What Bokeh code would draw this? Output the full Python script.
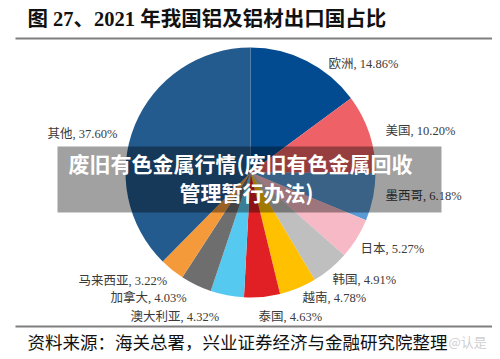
import math
from bokeh.plotting import figure
from bokeh.models import ColumnDataSource, Range1d
from bokeh.core.properties import value
from bokeh.embed import file_html
from bokeh.resources import INLINE

# ---- data ----
countries = ["欧洲", "美国", "墨西哥", "日本", "韩国", "越南", "泰国", "澳大利亚", "加拿大", "马来西亚", "其他"]
shares = [14.86, 10.20, 6.18, 5.27, 4.91, 4.78, 4.63, 4.32, 4.03, 3.22, 37.60]
colors = ["#034b91", "#ee6166", "#5b9bd5", "#f8b9c6", "#bfbfbf", "#ffc000",
          "#e02024", "#56c9f0", "#6e6e6e", "#f59a3a", "#245b8f"]
title_text = "图 27、2021 年我国铝及铝材出口国占比"
source_text = "资料来源：海关总署，兴业证券经济与金融研究院整理"
overlay_lines = ["废旧有色金属行情(废旧有色金属回收", "管理暂行办法)"]
watermark = "@认是"

# ---- layout (screen pixels) ----
W, H = 492, 351
label_pos = [(328, 63), (385, 130), (385, 195), (360, 248), (332, 279), (302, 297),
             (258, 316), (130, 316), (110, 297), (78, 280), (47, 133)]
cx_s, cy_s, R = 250, 172, 125


def X(sx):
    return sx


def Y(sy):
    return H - sy


SERIF = value("Liberation Serif, Noto Sans CJK SC")
SANS = value("Noto Sans CJK SC")

p = figure(width=W, height=H, output_backend="svg", toolbar_location=None,
           x_range=Range1d(0, W), y_range=Range1d(0, H), min_border=0)
p.axis.visible = False
p.grid.visible = False
p.outline_line_color = None
p.background_fill_color = "white"
p.border_fill_color = "white"

# pie wedges, clockwise from 12 o'clock
total = sum(shares)
starts, ends = [], []
cum = 0.0
for v in shares:
    a0 = math.pi / 2 - 2 * math.pi * cum / total
    cum += v
    a1 = math.pi / 2 - 2 * math.pi * cum / total
    starts.append(a1)
    ends.append(a0)
src = ColumnDataSource(dict(start=starts, end=ends, color=colors))
p.wedge(x=X(cx_s), y=Y(cy_s), radius=R, start_angle="start", end_angle="end",
        direction="anticlock", fill_color="color", line_color=None, source=src)

# data labels
lab = ColumnDataSource(dict(
    x=[X(a) for a, b in label_pos], y=[Y(b) for a, b in label_pos],
    t=[f"{c}, {v:.2f}%" for c, v in zip(countries, shares)]))
p.text(x="x", y="y", text="t", source=lab, text_font=SERIF, text_font_size="12.5px",
       text_color="#3a3a3a", text_align="left", text_baseline="middle")

# title and rules
p.text(x=[X(27)], y=[Y(18)], text=[title_text], text_font=SERIF, text_font_size="20.5px",
       text_font_style="bold", text_color="#111111", text_align="left", text_baseline="middle")
p.segment(x0=[X(15)], y0=[Y(38)], x1=[X(500)], y1=[Y(38)], line_color="#7f7f7f", line_width=2)
p.segment(x0=[X(15)], y0=[Y(326)], x1=[X(500)], y1=[Y(326)], line_color="#7f7f7f", line_width=2)
p.text(x=[X(27)], y=[Y(342)], text=[source_text], text_font=SERIF, text_font_size="17.5px",
       text_color="#111111", text_align="left", text_baseline="middle")
p.text(x=[X(448)], y=[Y(341)], text=[watermark], text_font=SANS, text_font_size="13px",
       text_color="#cfcfcf", text_align="left", text_baseline="middle")

# overlay banner
p.quad(left=[X(57)], right=[X(441)], top=[Y(146)], bottom=[Y(212)],
       fill_color="black", fill_alpha=0.37, line_color=None)
p.text(x=[X(240), X(246)], y=[Y(162), Y(191)], text=overlay_lines, text_font=SANS,
       text_font_size="21px", text_font_style="bold", text_color="white",
       text_align="center", text_baseline="middle")

open("out.html", "w").write(file_html(p, INLINE))
